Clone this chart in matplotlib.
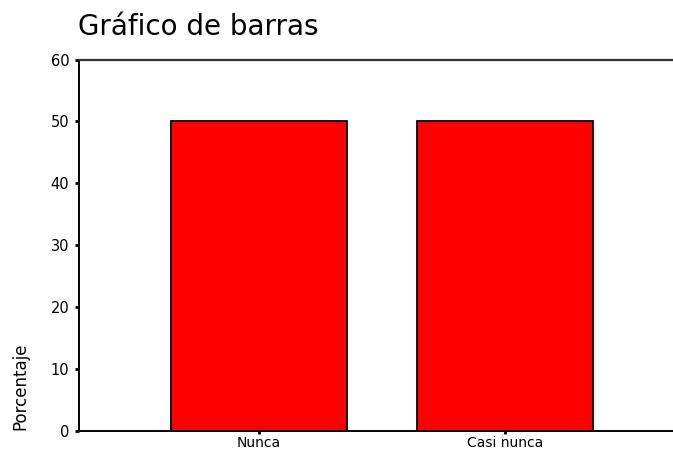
import matplotlib.pyplot as plt

categories = ["Nunca", "Casi nunca"]
porcentaje = [50.0, 50.0]
y_ticks = [0, 10, 20, 30, 40, 50, 60]

plt.rcParams['font.family'] = ['DejaVu Sans']

fig = plt.figure(figsize=(6.73, 4.51), dpi=100)
fig.patch.set_facecolor("white")
# axes run a little past the right edge of the canvas
ax = fig.add_axes([0.1174, 0.0443, 0.901, 0.8237])

x = list(range(len(categories)))
ax.bar(x, porcentaje, width=0.714, color="#ff0000", edgecolor="black", linewidth=1.3, zorder=2)

ax.set_xlim(-0.730, 1.730)
ax.set_ylim(0, 60)
ax.set_yticks(y_ticks)
ax.set_xticks(x)
ax.set_xticklabels(categories)

ax.tick_params(axis="y", direction="out", length=3, width=2, pad=4, labelsize=10.5, colors="black")
ax.tick_params(axis="x", direction="out", length=2.5, width=2, pad=1, labelsize=10, colors="black")

for side in ["left", "bottom"]:
    ax.spines[side].set_linewidth(1.4)
    ax.spines[side].set_color("black")
ax.spines["top"].set_linewidth(1.6)
ax.spines["top"].set_color("#333333")
ax.spines["right"].set_visible(False)

fig.text(0.116, 1 - 35 / 451, "Gráfico de barras", fontsize=20, ha="left", va="baseline")
fig.text(20 / 673, (451 - 430) / 451, "Porcentaje", fontsize=12, rotation=90, ha="center", va="bottom")

fig.savefig("out.png", dpi=100)
